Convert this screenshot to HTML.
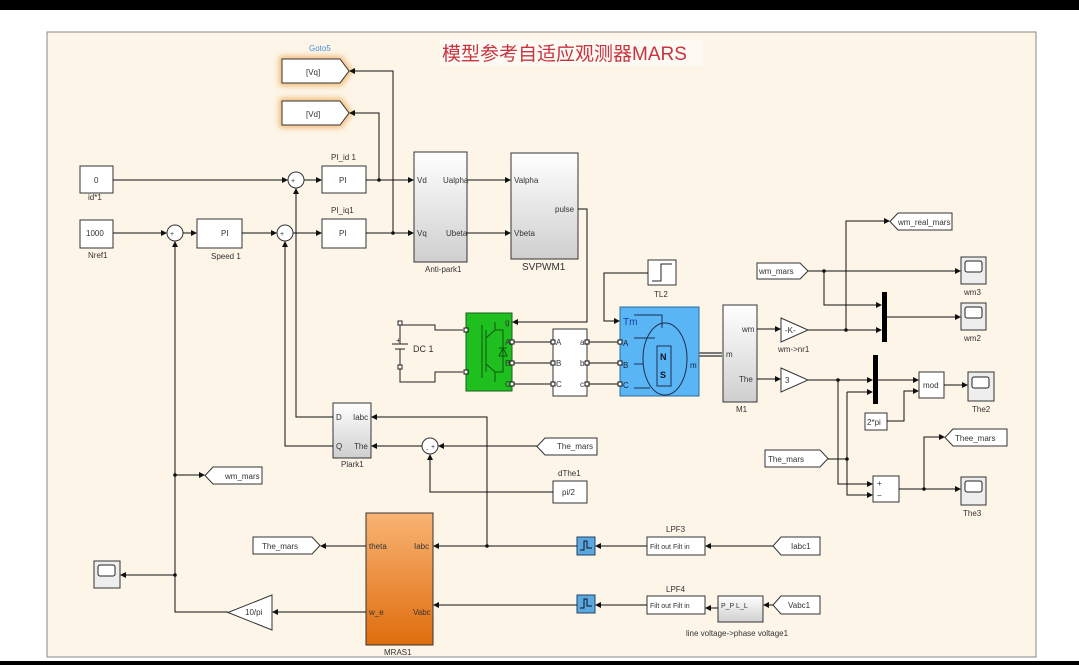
<!DOCTYPE html>
<html><head><meta charset="utf-8"><style>
html,body{margin:0;padding:0;background:#fff;width:1079px;height:665px;overflow:hidden}
svg{display:block}
text{font-family:"Liberation Sans","Noto Sans CJK SC",sans-serif;font-size:8px;fill:#333}
</style></head><body>
<svg width="1079" height="665" viewBox="0 0 1079 665" xmlns="http://www.w3.org/2000/svg">
<defs>
<marker id="a" markerWidth="6" markerHeight="6" refX="5" refY="3" orient="auto" markerUnits="userSpaceOnUse"><path d="M0,0 L6,3 L0,6z" fill="#111"/></marker>
<linearGradient id="g1" x1="0" y1="0" x2="0" y2="1"><stop offset="0" stop-color="#fff"/><stop offset="1" stop-color="#cfcfcf"/></linearGradient>
<linearGradient id="g2" x1="0" y1="0" x2="0" y2="1"><stop offset="0" stop-color="#f8b473"/><stop offset="1" stop-color="#df6d0d"/></linearGradient>
<filter id="glow" x="-30%" y="-50%" width="160%" height="200%"><feGaussianBlur stdDeviation="3"/></filter>
</defs>
<rect x="0" y="0" width="1079" height="10" fill="#000"/>
<rect x="0" y="661" width="1079" height="4" fill="#000"/>
<rect x="47" y="32" width="989" height="625" fill="#fcf5e8" stroke="#888" stroke-width="1"/>
<rect x="440" y="40" width="262" height="26" fill="#fdfaf4"/>
<text x="442" y="60" style="font-size:19px;fill:#c8343f">模型参考自适应观测器MARS</text>

<g fill="none" stroke="#222" stroke-width="1">
<path d="M282,59 H340 L349,71 L340,83 H282Z" stroke="#f0b060" stroke-width="5" filter="url(#glow)"/>
<path d="M282,101 H340 L349,113 L340,125 H282Z" stroke="#f0b060" stroke-width="5" filter="url(#glow)"/>
</g>
<g fill="#fff" stroke="#333" stroke-width="1">
<path d="M282,59 H340 L349,71 L340,83 H282Z"/>
<path d="M282,101 H340 L349,113 L340,125 H282Z"/>
<rect x="80" y="166" width="33" height="27"/>
<rect x="80" y="220" width="33" height="28"/>
<rect x="197" y="219" width="45" height="29"/>
<rect x="322" y="166" width="44" height="27"/>
<rect x="322" y="219" width="44" height="29"/>
<rect x="414" y="152" width="53" height="110" fill="url(#g1)"/>
<rect x="511" y="153" width="67" height="106" fill="url(#g1)"/>
<rect x="648" y="260" width="28" height="25"/>
<rect x="553" y="329" width="34" height="67"/>
<rect x="723" y="305" width="34" height="97" fill="url(#g1)"/>
<rect x="333" y="403" width="38" height="55" fill="url(#g1)"/>
<rect x="553" y="481" width="34" height="22"/>
<rect x="366" y="513" width="67" height="132" fill="url(#g2)"/>
<rect x="647" y="537" width="58" height="18"/>
<rect x="647" y="596" width="58" height="18"/>
<rect x="718" y="596" width="45" height="26" fill="url(#g1)"/>
<rect x="919" y="372" width="25" height="26"/>
<rect x="865" y="413" width="22" height="17"/>
<rect x="873" y="476" width="26" height="26"/>
<rect x="961" y="257" width="25" height="27" fill="#eee"/>
<rect x="961" y="303" width="25" height="27" fill="#eee"/>
<rect x="968" y="372" width="26" height="29" fill="#eee"/>
<rect x="961" y="477" width="25" height="28" fill="#eee"/>
<rect x="94" y="561" width="26" height="27" fill="#eee"/>
<path d="M757,263 H800 L808,271 L800,279 H757Z"/>
<path d="M898,213 H952 V230 H898 L890,221.5Z"/>
<path d="M953,429 H1007 V446 H953 L945,437.5Z"/>
<path d="M765,450 H820 L828,458.5 L820,467 H765Z"/>
<path d="M545,438 H597 V455 H545 L537,446.5Z"/>
<path d="M213,467 H262 V484 H213 L205,475.5Z"/>
<path d="M253,537 H312 L320,545.5 L312,554 H253Z"/>
<path d="M781,537 H820 V555 H781 L773,546Z"/>
<path d="M781,596 H820 V614 H781 L773,605Z"/>
<path d="M781,318 L808,330 L781,342Z"/>
<path d="M781,368 L808,380 L781,392Z"/>
<path d="M272,595 L272,630 L228,612.5Z"/>
<circle cx="296" cy="180" r="8"/>
<circle cx="285" cy="233" r="8"/>
<circle cx="175" cy="233" r="8"/>
<circle cx="430" cy="446" r="8"/>
</g>
<g fill="#fff" stroke="#222" stroke-width="1">
<rect x="965" y="261" width="17" height="11" rx="2"/>
<rect x="965" y="307" width="17" height="11" rx="2"/>
<rect x="972" y="377" width="17" height="11" rx="2"/>
<rect x="965" y="481" width="17" height="11" rx="2"/>
<rect x="98" y="565" width="17" height="11" rx="2"/>
</g>
<rect x="466" y="313" width="46" height="78" fill="#1fbf1f" stroke="#186018"/>
<g stroke="#115511" fill="none" stroke-width="1">
<path d="M482,325 V378 M486,330 V372 M486,338 L495,330 V322 M486,364 L495,372 V382 M495,330 H503 V372 H495 M499,348 L507,348 M499,356 H507 L503,348Z"/>
</g>
<rect x="620" y="307" width="79" height="89" fill="#5ab5f5" stroke="#2a6aa0"/>
<g stroke="#1a3050" fill="none" stroke-width="1">
<ellipse cx="665" cy="359" rx="22" ry="36"/>
<rect x="657" y="346" width="14" height="40"/>
<path d="M634,315 H662 V328 M634,338 H655 M634,364 H643 M634,388 H650"/>
</g>
<text x="660" y="360" style="font-size:9px;fill:#112;font-weight:bold">N</text>
<text x="660" y="378" style="font-size:9px;fill:#112;font-weight:bold">S</text>
<text x="623" y="325" style="font-size:10px;fill:#1a40a0">Tm</text>
<text x="623" y="346" style="fill:#123">A</text><text x="623" y="368" style="fill:#123">B</text><text x="623" y="388" style="fill:#123">C</text>
<text x="690" y="368" style="fill:#123">m</text>
<rect x="577" y="537" width="18" height="18" fill="#5aa8e0" stroke="#246"/>
<rect x="577" y="595" width="18" height="18" fill="#5aa8e0" stroke="#246"/>
<path d="M580,550 H584 V541 H587 V548 H592" stroke="#112" fill="none"/>
<path d="M580,608 H584 V599 H587 V606 H592" stroke="#112" fill="none"/>
<path d="M652,281 H661 V264 H672" stroke="#222" fill="none"/>
<rect x="882" y="292" width="5" height="50" fill="#000"/>
<rect x="873" y="355" width="5" height="49" fill="#000"/>
<g stroke="#222" fill="none">
<path d="M400,325 V344 M392,344 H408 M395,349 H405 M400,349 V367"/>
<path d="M400,325 H435 V330 H463 M400,367 V382 H435 V372 H463"/>
</g>
<rect x="398" y="321" width="4" height="4" fill="#fff" stroke="#222"/>
<rect x="398" y="365" width="4" height="4" fill="#fff" stroke="#222"/>
<text x="396" y="343">+</text>
<text x="413" y="352" style="font-size:9px">DC 1</text>

<g fill="none" stroke="#111" stroke-width="1">
<path d="M113,180 H287" marker-end="url(#a)"/>
<path d="M304,180 H321" marker-end="url(#a)"/>
<path d="M113,233 H166" marker-end="url(#a)"/>
<path d="M183,233 H196" marker-end="url(#a)"/>
<path d="M242,233 H276" marker-end="url(#a)"/>
<path d="M293,233 H321" marker-end="url(#a)"/>
<path d="M366,180 H413" marker-end="url(#a)"/>
<path d="M366,233 H413" marker-end="url(#a)"/>
<path d="M379,180 V113 H350" marker-end="url(#a)"/>
<path d="M393,233 V71 H350" marker-end="url(#a)"/>
<path d="M467,180 H510" marker-end="url(#a)"/>
<path d="M467,233 H510" marker-end="url(#a)"/>
<path d="M578,209 H587 V322 H513" marker-end="url(#a)"/>
<path d="M648,273 H604 V321 H619" marker-end="url(#a)"/>
<path d="M512,342 H553 M512,363 H553 M512,384 H553 M587,342 H620 M587,363 H620 M587,384 H620"/>
<path d="M699,353 H722 M699,356 H722" stroke="#777" stroke-width="2"/>
<path d="M757,329 H780" marker-end="url(#a)"/>
<path d="M757,379 H780" marker-end="url(#a)"/>
<path d="M808,330 H881" marker-end="url(#a)"/>
<path d="M846,330 V221 H889" marker-end="url(#a)"/>
<path d="M808,271 H960" marker-end="url(#a)"/>
<path d="M824,271 V305 H881" marker-end="url(#a)"/>
<path d="M887,317 H960" marker-end="url(#a)"/>
<path d="M808,380 H872" marker-end="url(#a)"/>
<path d="M838,380 V484 H872" marker-end="url(#a)"/>
<path d="M828,459 H847" />
<path d="M847,392 V495 H872" marker-end="url(#a)"/>
<path d="M847,392 H872" marker-end="url(#a)"/>
<path d="M878,380 H918" marker-end="url(#a)"/>
<path d="M887,421 H904 V391 H918" marker-end="url(#a)"/>
<path d="M944,385 H967" marker-end="url(#a)"/>
<path d="M899,489 H960" marker-end="url(#a)"/>
<path d="M924,489 V437 H944" marker-end="url(#a)"/>
<path d="M333,417 H296 V189" marker-end="url(#a)"/>
<path d="M333,446 H285 V242" marker-end="url(#a)"/>
<path d="M487,546 V417 H372" marker-end="url(#a)"/>
<path d="M422,446 H372" marker-end="url(#a)"/>
<path d="M537,446 H439" marker-end="url(#a)"/>
<path d="M553,492 H430 V455" marker-end="url(#a)"/>
<path d="M577,546 H434" marker-end="url(#a)"/>
<path d="M647,546 H596" marker-end="url(#a)"/>
<path d="M773,546 H706" marker-end="url(#a)"/>
<path d="M577,605 H434" marker-end="url(#a)"/>
<path d="M647,605 H596" marker-end="url(#a)"/>
<path d="M718,608 H706" marker-end="url(#a)"/>
<path d="M773,605 H764" marker-end="url(#a)"/>
<path d="M366,546 H321" marker-end="url(#a)"/>
<path d="M366,612 H273" marker-end="url(#a)"/>
<path d="M228,612 H175 V242" marker-end="url(#a)"/>
<path d="M175,475 H204" marker-end="url(#a)"/>
<path d="M175,575 H121" marker-end="url(#a)"/>
</g>
<g fill="#111">
<circle cx="379" cy="180" r="1.8"/><circle cx="393" cy="233" r="1.8"/>
<circle cx="846" cy="330" r="1.8"/><circle cx="824" cy="271" r="1.8"/>
<circle cx="838" cy="380" r="1.8"/><circle cx="847" cy="459" r="1.8"/>
<circle cx="924" cy="489" r="1.8"/><circle cx="487" cy="546" r="1.8"/>
<circle cx="175" cy="475" r="1.8"/><circle cx="175" cy="575" r="1.8"/>
</g>
<g fill="#fff" stroke="#111">
<rect x="510" y="340" width="4" height="4"/><rect x="510" y="361" width="4" height="4"/><rect x="510" y="382" width="4" height="4"/>
<rect x="551" y="340" width="4" height="4"/><rect x="551" y="361" width="4" height="4"/><rect x="551" y="382" width="4" height="4"/>
<rect x="585" y="340" width="4" height="4"/><rect x="585" y="361" width="4" height="4"/><rect x="585" y="382" width="4" height="4"/>
<rect x="618" y="340" width="4" height="4"/><rect x="618" y="361" width="4" height="4"/><rect x="618" y="382" width="4" height="4"/>
<rect x="464" y="328" width="4" height="4"/><rect x="464" y="370" width="4" height="4"/>
</g>
<text x="309" y="51" style="fill:#4a90d0">Goto5</text>
<text x="306" y="75">[Vq]</text><text x="306" y="117">[Vd]</text>
<text x="94" y="183">0</text><text x="88" y="200">id*1</text>
<text x="86" y="236">1000</text><text x="88" y="258">Nref1</text>
<text x="221" y="236">PI</text><text x="211" y="259">Speed 1</text>
<text x="331" y="160">PI_id 1</text><text x="339" y="183">PI</text>
<text x="331" y="213">PI_iq1</text><text x="339" y="236">PI</text>
<text x="417" y="183">Vd</text><text x="443" y="183">Ualpha</text>
<text x="417" y="236">Vq</text><text x="446" y="236">Ubeta</text>
<text x="425" y="272">Anti-park1</text>
<text x="514" y="183">Valpha</text><text x="514" y="236">Vbeta</text><text x="555" y="212">pulse</text>
<text x="522" y="270" style="font-size:10px">SVPWM1</text>
<text x="654" y="297">TL2</text>
<text x="505" y="325">g</text><text x="505" y="345">A</text><text x="505" y="366">B</text><text x="505" y="387">C</text>
<text x="556" y="345">A</text><text x="556" y="366">B</text><text x="556" y="387">C</text>
<text x="580" y="345">a</text><text x="580" y="366">b</text><text x="580" y="387">c</text>
<text x="726" y="357">m</text><text x="742" y="332">wm</text><text x="739" y="382">The</text><text x="736" y="412">M1</text>
<text x="785" y="333">-K-</text><text x="778" y="352">wm-&gt;nr1</text>
<text x="785" y="383">3</text>
<text x="759" y="274">wm_mars</text>
<text x="898" y="225">wm_real_mars</text>
<text x="964" y="295">wm3</text><text x="964" y="341">wm2</text>
<text x="923" y="388">mod</text><text x="972" y="412">The2</text>
<text x="867" y="425">2*pi</text>
<text x="955" y="441">Thee_mars</text>
<text x="877" y="486">+</text><text x="877" y="498">−</text>
<text x="963" y="516">The3</text>
<text x="768" y="462">The_mars</text>
<text x="336" y="420">D</text><text x="353" y="420">Iabc</text>
<text x="336" y="449">Q</text><text x="354" y="449">The</text>
<text x="341" y="467">Plark1</text>
<text x="426" y="452" style="font-size:7px">-</text><text x="431" y="449" style="font-size:7px">+</text>
<text x="291" y="183" style="font-size:7px">+</text><text x="280" y="236" style="font-size:7px">+</text><text x="170" y="236" style="font-size:7px">+</text>
<text x="557" y="449">The_mars</text>
<text x="558" y="476">dThe1</text><text x="562" y="495">pi/2</text>
<text x="225" y="479">wm_mars</text>
<text x="369" y="549">theta</text><text x="414" y="549">Iabc</text>
<text x="369" y="615">w_e</text><text x="413" y="615">Vabc</text>
<text x="384" y="655">MRAS1</text>
<text x="262" y="549">The_mars</text>
<text x="666" y="532">LPF3</text><text x="666" y="592">LPF4</text>
<text x="650" y="549" style="font-size:7px">Filt out  Filt in</text>
<text x="650" y="608" style="font-size:7px">Filt out  Filt in</text>
<text x="721" y="608" style="font-size:7px">P_P  L_L</text>
<text x="686" y="636">line voltage-&gt;phase voltage1</text>
<text x="791" y="549">Iabc1</text><text x="788" y="608">Vabc1</text>
<text x="245" y="615">10/pi</text>
</svg>
</body></html>
